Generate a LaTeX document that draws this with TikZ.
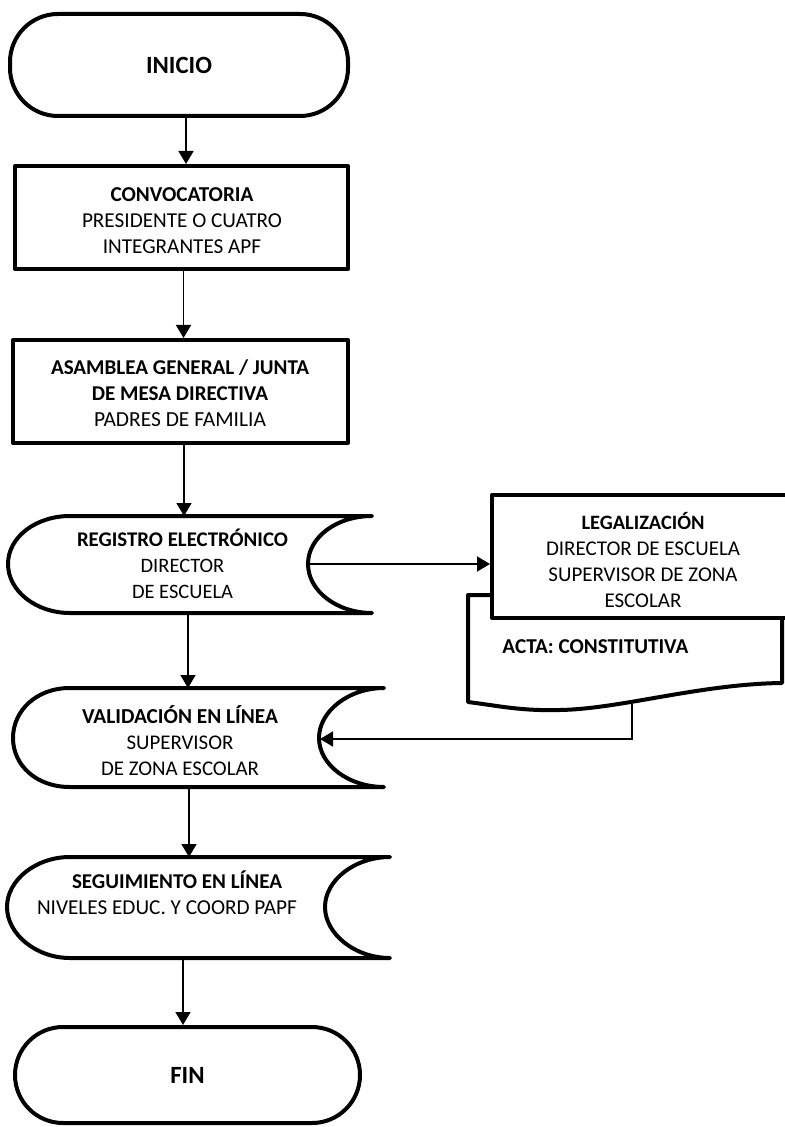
\documentclass[tikz,border=0pt]{standalone}
\usepackage{fontspec}
\setmainfont{Carlito}
\usetikzlibrary{arrows.meta}
\newlength\fitlen
% compute a font size (pt) so that text #3 is #2 pt wide
\newcommand\fitreg[3]{\settowidth\fitlen{\fontsize{10}{12}\selectfont #3}\pgfmathsetmacro#1{10*#2/\fitlen}}
\newcommand\fitbold[3]{\settowidth\fitlen{\fontsize{10}{12}\selectfont\bfseries #3}\pgfmathsetmacro#1{10*#2/\fitlen}}
\newcommand\txr[2]{{\fontsize{#1}{13}\selectfont #2}}
\newcommand\txb[2]{{\bfseries\fontsize{#1}{13}\selectfont #2}}
\newcommand\sdshape[6]{% #1 left x, #2 top y, #3 mid y, #4 bottom y, #5 tip x, #6 inner x
  \draw[shp, fill=white] (#5,#2) -- (70,#2)
    .. controls (36,#2) and (#1,#3-27) .. (#1,#3)
    .. controls (#1,#3+27) and (36,#4) .. (70,#4)
    -- (#5,#4)
    .. controls (#5-35,#4) and (#6,#3+27) .. (#6,#3)
    .. controls (#6,#3-27) and (#5-35,#2) .. cycle;}
\begin{document}
\fitbold\bT{33}{INICIO}%
\fitbold\bCV{71.5}{CONVOCATORIA}%
\fitreg\rCV{100}{PRESIDENTE O CUATRO}%
\fitbold\bAS{129}{ASAMBLEA GENERAL / JUNTA}%
\fitreg\rAS{86}{PADRES DE FAMILIA}%
\fitbold\bRG{105.5}{REGISTRO ELECTRÓNICO}%
\fitreg\rRG{50.5}{DE ESCUELA}%
\fitbold\bVA{98}{VALIDACIÓN EN LÍNEA}%
\fitreg\rVA{79}{DE ZONA ESCOLAR}%
\fitbold\bSG{105}{SEGUIMIENTO EN LÍNEA}%
\fitreg\rSG{130}{NIVELES EDUC. Y COORD PAPF}%
\fitbold\bLG{61.5}{LEGALIZACIÓN}%
\fitreg\rLG{97}{DIRECTOR DE ESCUELA}%
\fitbold\bAC{93}{ACTA: CONSTITUTIVA}%
\begin{tikzpicture}[x=0.5pt,y=-0.5pt,
  shp/.style={line width=2pt, line join=round, line cap=round},
  conn/.style={line width=0.8pt, -{Triangle[width=7.5pt,length=6.5pt]}},
  body/.style={align=center, inner sep=0pt, font=\fontsize{10}{13}\selectfont},
  term/.style={shp, draw, fill=white, rounded corners=24pt, inner sep=0pt},
  procbox/.style={shp, draw, fill=white, inner sep=0pt}
]
\useasboundingbox (0,0) rectangle (784,1127);

% terminals and process boxes
\node[term, minimum width=169pt, minimum height=51pt] (ini) at (179,65) {\txb{\bT}{INICIO}};
\node[procbox, minimum width=166.5pt, minimum height=51.5pt] (conv) at (181.5,217.5) {};
\node[body] (convt) at (182,221)
  {\txb{\bCV}{CONVOCATORIA}\\\txr{\rCV}{PRESIDENTE O CUATRO}\\\txr{\rCV}{INTEGRANTES APF}};
\node[procbox, minimum width=167.5pt, minimum height=51.5pt] (asam) at (180.5,391.5) {};
\node[body] (asamt) at (180,393.5)
  {\txb{\bAS}{ASAMBLEA GENERAL / JUNTA}\\\txb{\bAS}{DE MESA DIRECTIVA}\\\txr{\rAS}{PADRES DE FAMILIA}};

% stored data shapes
\sdshape{8}{516}{564}{613}{372}{308}
\node[body] (reg) at (182.5,564) {\txb{\bRG}{REGISTRO ELECTRÓNICO}\\\txr{\rRG}{DIRECTOR}\\\txr{\rRG}{DE ESCUELA}};
\coordinate (regN) at (184,516);
\coordinate (regS) at (188,613);
\coordinate (regE) at (308,564);

\sdshape{13}{688}{738}{787}{384}{319}
\node[body] (val) at (180,741) {\txb{\bVA}{VALIDACIÓN EN LÍNEA}\\\txr{\rVA}{SUPERVISOR}\\\txr{\rVA}{DE ZONA ESCOLAR}};
\coordinate (valN) at (188,688);
\coordinate (valS) at (189,787);
\coordinate (valE) at (320,739);

\sdshape{7}{857}{907}{958}{390}{325}
\node[body] (seg) at (177,892.5) {\txb{\bSG}{SEGUIMIENTO EN LÍNEA}\\\txr{\rSG}{NIVELES EDUC. Y COORD PAPF}\rule{10pt}{0pt}};
\coordinate (segN) at (189,857);
\coordinate (segS) at (183,958);

\node[term, minimum width=172.5pt, minimum height=48pt] (fin) at (187.5,1075) {\txb{\bT}{FIN}};

% document (acta) behind the legalizacion box
\draw[shp, fill=white] (492,595) -- (468,595) -- (468,702)
  .. controls (500,706) and (520,711) .. (560,710)
  .. controls (620,709) and (700,684) .. (782,683)
  -- (782,595) -- cycle;
\node[body, anchor=west] (acta) at (502,647) {\txb{\bAC}{ACTA: CONSTITUTIVA}};
\coordinate (actaB) at (632,704);

\node[procbox, minimum width=149pt, minimum height=61.5pt] (leg) at (641,556.5) {};
\node[body] (legt) at (643,559.5)
  {\txb{\bLG}{LEGALIZACIÓN}\\\txr{\rLG}{DIRECTOR DE ESCUELA}\\\txr{\rLG}{SUPERVISOR DE ZONA}\\\txr{\rLG}{ESCOLAR}};

% connectors
\draw[conn] ([xshift=3.5pt]ini.south) -- ([xshift=3.5pt]ini.south |- conv.north);
\draw[conn] ([xshift=1pt]conv.south) -- ([xshift=1pt]conv.south |- asam.north);
\draw[conn] (asam.south -| regN) -- (regN);
\draw[conn] (regS) -- (valN);
\draw[conn] (valS) -- (segN);
\draw[conn] (segS) -- (segS |- fin.north);
\draw[conn] (regE) -- (regE -| leg.west);
\draw[conn] (actaB) |- (valE);
\end{tikzpicture}
\end{document}
